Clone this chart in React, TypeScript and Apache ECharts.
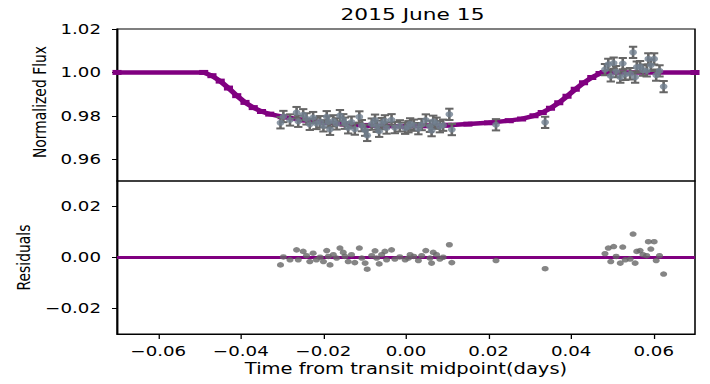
import React, { useEffect, useRef } from 'react';
import * as echarts from 'echarts';

// Horizontal stretch of the reference figure (it looks like a stretched matplotlib plot)
const S = 1.3;
const px = (v: number) => v / S;

const TITLE = '2015 June 15';
const X_LABEL = 'Time from transit midpoint(days)';
const Y_TOP_LABEL = 'Normalized Flux';
const Y_BOT_LABEL = 'Residuals';

const X_MIN = -0.07;
const X_MAX = 0.07;
const X_TICKS = [-0.06, -0.04, -0.02, 0.0, 0.02, 0.04, 0.06];
const TOP_Y_MIN = 0.95;
const TOP_Y_MAX = 1.02;
const TOP_Y_TICKS = [0.96, 0.98, 1.0, 1.02];
const BOT_Y_MIN = -0.03;
const BOT_Y_MAX = 0.03;
const BOT_Y_TICKS = [-0.02, 0.0, 0.02];

// transit model curve
const MODEL_T = [
  -0.07, -0.049, -0.047, -0.045, -0.043, -0.041, -0.039, -0.037, -0.035, -0.033,
  -0.03, -0.025, -0.02, -0.015, -0.01, -0.005, 0.0, 0.005, 0.01, 0.015, 0.02,
  0.025, 0.028, 0.031, 0.033, 0.035, 0.037, 0.039, 0.041, 0.043, 0.045, 0.047,
  0.048, 0.07,
];
const MODEL_F = [
  1.0, 1.0, 0.9985, 0.996, 0.9928, 0.9893, 0.9862, 0.9838, 0.982, 0.9808,
  0.9796, 0.9781, 0.977, 0.9762, 0.9756, 0.9753, 0.9752, 0.9754, 0.9757, 0.9762, 0.9768,
  0.9778, 0.9786, 0.98, 0.9815, 0.9835, 0.986, 0.989, 0.9922, 0.9952, 0.9977, 0.9995,
  1.0, 1.0,
];

// observations
const TIME = [
  -0.0304, -0.0297, -0.0281, -0.0265, -0.0261, -0.0249, -0.0241, -0.0233, -0.0225, -0.0217,
  -0.0208, -0.02, -0.0192, -0.0188, -0.0184, -0.0176, -0.0168, -0.016, -0.0152, -0.0148,
  -0.014, -0.0132, -0.0124, -0.0113, -0.0107, -0.0099, -0.0094, -0.0083, -0.0075, -0.0071,
  -0.0065, -0.0059, -0.0051, -0.0047, -0.0035, -0.0027, -0.0015, -0.0002, 0.0006, 0.001,
  0.0019, 0.003, 0.0038, 0.0048, 0.0058, 0.0062, 0.0066, 0.0074, 0.0082, 0.009,
  0.0105, 0.0111, 0.0218, 0.0337,
  0.0482, 0.049, 0.0496, 0.0503, 0.0509, 0.0519, 0.0525, 0.0531, 0.0543, 0.055,
  0.0555, 0.0559, 0.0567, 0.0574, 0.0583, 0.0587, 0.0593, 0.0601, 0.0606, 0.0614, 0.0624,
];
const FLUX = [
  0.9768, 0.9797, 0.9781, 0.9815, 0.9775, 0.9805, 0.9786, 0.9761, 0.9792, 0.9765,
  0.9773, 0.9754, 0.9796, 0.9772, 0.9738, 0.9777, 0.9763, 0.9801, 0.9782, 0.9766,
  0.9745, 0.9771, 0.9739, 0.9795, 0.9755, 0.9734, 0.971, 0.9762, 0.978, 0.9752,
  0.9729, 0.9764, 0.9777, 0.9744, 0.9782, 0.9746, 0.9754, 0.9743, 0.975, 0.9763,
  0.9757, 0.9741, 0.976, 0.9781, 0.9752, 0.9732, 0.9775, 0.9766, 0.975, 0.9757,
  0.9807, 0.9737, 0.9759, 0.977,
  1.0013, 1.0037, 0.9984, 1.0043, 1.0004, 0.9978, 1.0041, 0.9991, 0.9994, 1.0092,
  0.9978, 1.0024, 1.0027, 1.0011, 1.0007, 1.0062, 1.0033, 1.0062, 0.9988, 1.0007, 0.9935,
];
const FLUX_ERR = 0.0026;
const RESID = [
  -0.0029, 0.0002, -0.0009, 0.003, -0.0009, 0.0024, 0.0007, -0.0016, 0.0017, -0.0009,
  0.0001, -0.0016, 0.0027, 0.0004, -0.0029, 0.0011, -0.0002, 0.0037, 0.002, 0.0004,
  -0.0016, 0.0011, -0.002, 0.0037, -0.0002, -0.0022, -0.0046, 0.0007, 0.0026, -0.0002,
  -0.0025, 0.0011, 0.0024, -0.0009, 0.003, -0.0006, 0.0002, -0.0009, -0.0002, 0.0011,
  0.0004, -0.0012, 0.0007, 0.0027, -0.0002, -0.0022, 0.002, 0.0011, -0.0006, 0.0001,
  0.005, -0.002, -0.0012, -0.0044,
  0.0015, 0.0037, -0.0016, 0.0043, 0.0004, -0.0022, 0.0041, -0.0009, -0.0006, 0.0092,
  -0.0022, 0.0024, 0.0027, 0.0011, 0.0007, 0.0062, 0.0033, 0.0062, -0.0012, 0.0007, -0.0065,
];

const PURPLE = '#800080';
const POINT_COLOR = '#708090';
const ERR_COLOR = '#666666';
const RES_COLOR = '#666666';
const FONT = 'DejaVu Sans';

const fmt = (v: number) => v.toFixed(2).replace('-', '\u2212');

export default function App() {
  const ref = useRef<HTMLDivElement>(null);
  useEffect(() => {
    if (!ref.current) return;
    const chart = echarts.init(ref.current, null, { renderer: 'svg' });
    const axisText = { color: '#000', fontFamily: FONT, fontSize: 14 };
    const option: any = {
      animation: false,
      backgroundColor: '#fff',
      title: {
        text: TITLE,
        left: px(406),
        textAlign: 'center',
        top: 1,
        textStyle: { color: '#000', fontFamily: FONT, fontSize: 16.7, fontWeight: 'normal' },
      },
      grid: [
        { left: px(117), top: 29, width: px(578), height: 152, show: true, borderColor: '#000', borderWidth: 1.2, backgroundColor: 'transparent' },
        { left: px(117), top: 181, width: px(578), height: 153, show: true, borderColor: '#000', borderWidth: 1.2, backgroundColor: 'transparent' },
      ],
      xAxis: [
        { type: 'value', gridIndex: 0, min: X_MIN, max: X_MAX, show: false, splitLine: { show: false } },
        {
          type: 'value', gridIndex: 1, min: X_MIN, max: X_MAX,
          splitLine: { show: false },
          axisLine: { show: true, onZero: false, lineStyle: { color: '#000', width: 1.2 } },
          axisTick: { show: true, inside: false, length: 5, customValues: X_TICKS, lineStyle: { color: '#000', width: 1 } },
          axisLabel: { ...axisText, margin: 10, customValues: X_TICKS, formatter: fmt },
          name: X_LABEL, nameLocation: 'middle', nameGap: 27,
          nameTextStyle: { color: '#000', fontFamily: FONT, fontSize: 15 },
        },
      ],
      yAxis: [
        {
          type: 'value', gridIndex: 0, min: TOP_Y_MIN, max: TOP_Y_MAX,
          splitLine: { show: false },
          axisLine: { show: true, onZero: false, lineStyle: { color: '#000', width: 1.2 } },
          axisTick: { show: true, inside: false, length: px(5), customValues: TOP_Y_TICKS, lineStyle: { color: '#000', width: 1 } },
          axisLabel: { ...axisText, margin: px(16), customValues: TOP_Y_TICKS, formatter: fmt },
        },
        {
          type: 'value', gridIndex: 1, min: BOT_Y_MIN, max: BOT_Y_MAX,
          splitLine: { show: false },
          axisLine: { show: true, onZero: false, lineStyle: { color: '#000', width: 1.2 } },
          axisTick: { show: true, inside: false, length: px(5), customValues: BOT_Y_TICKS, lineStyle: { color: '#000', width: 1 } },
          axisLabel: { ...axisText, margin: px(16), customValues: BOT_Y_TICKS, formatter: fmt },
        },
      ],
      graphic: [
        {
          type: 'text', x: px(40), y: 102, rotation: Math.PI / 2,
          style: { text: Y_TOP_LABEL, fill: '#000', font: `13.9px "${FONT}"`, align: 'center', verticalAlign: 'middle' },
        },
        {
          type: 'text', x: px(24), y: 257.5, rotation: Math.PI / 2,
          style: { text: Y_BOT_LABEL, fill: '#000', font: `13.9px "${FONT}"`, align: 'center', verticalAlign: 'middle' },
        },
      ],
      series: [
        {
          type: 'line', xAxisIndex: 0, yAxisIndex: 0,
          data: MODEL_T.map((t, i) => [t, MODEL_F[i]]),
          lineStyle: { color: PURPLE, width: 4.5 },
          itemStyle: { color: PURPLE },
          symbol: 'rect', symbolSize: [7, 5], showSymbol: true, z: 2,
        },
        {
          type: 'custom', xAxisIndex: 0, yAxisIndex: 0, z: 3,
          data: TIME.map((t, i) => [t, FLUX[i] - FLUX_ERR, FLUX[i] + FLUX_ERR]),
          encode: { x: 0, y: [1, 2] },
          renderItem: (params: any, api: any) => {
            const x = api.value(0);
            const lo = api.coord([x, api.value(1)]);
            const hi = api.coord([x, api.value(2)]);
            const cap = 3.2;
            const st = { stroke: ERR_COLOR, lineWidth: 2 };
            return {
              type: 'group',
              children: [
                { type: 'line', shape: { x1: lo[0], y1: lo[1], x2: hi[0], y2: hi[1] }, style: st },
                { type: 'line', shape: { x1: lo[0] - cap, y1: lo[1], x2: lo[0] + cap, y2: lo[1] }, style: st },
                { type: 'line', shape: { x1: hi[0] - cap, y1: hi[1], x2: hi[0] + cap, y2: hi[1] }, style: st },
              ],
            };
          },
        },
        {
          type: 'scatter', xAxisIndex: 0, yAxisIndex: 0, z: 4,
          data: TIME.map((t, i) => [t, FLUX[i]]),
          symbol: 'circle', symbolSize: 6,
          itemStyle: { color: POINT_COLOR },
        },
        {
          type: 'line', xAxisIndex: 1, yAxisIndex: 1, z: 2,
          data: [[X_MIN, 0], [X_MAX, 0]],
          lineStyle: { color: PURPLE, width: 2.8 },
          symbol: 'none',
        },
        {
          type: 'scatter', xAxisIndex: 1, yAxisIndex: 1, z: 3,
          data: TIME.map((t, i) => [t, RESID[i]]),
          symbol: 'circle', symbolSize: 5.5,
          itemStyle: { color: RES_COLOR },
        },
      ],
    };
    chart.setOption(option);
    return () => chart.dispose();
  }, []);
  return (
    <div style={{ position: 'fixed', left: 0, top: 0, width: 710, height: 384, overflow: 'hidden', background: '#fff' }}>
      <div
        ref={ref}
        style={{ width: 710 / S, height: 384, transform: `scaleX(${S})`, transformOrigin: '0 0' }}
      />
    </div>
  );
}
